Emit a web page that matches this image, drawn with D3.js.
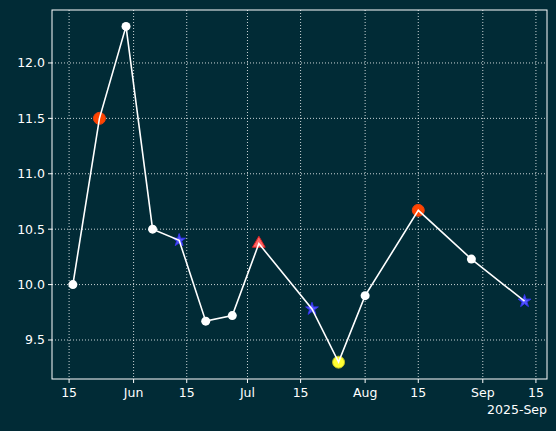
<!DOCTYPE html><html><head><script src="https://cdn.jsdelivr.net/npm/d3@7"></script>
<style>body{margin:0;background:#012b36}</style></head><body><svg id="c" width="556" height="431"></svg><script>
const dates=["2025-05-16","2025-05-23","2025-05-30","2025-06-06","2025-06-13","2025-06-20","2025-06-27","2025-07-04","2025-07-18","2025-07-25","2025-08-01","2025-08-15","2025-08-29","2025-09-12"];
const values=[10.0,11.5,12.33,10.5,10.4,9.67,9.72,10.37,9.78,9.3,9.9,10.67,10.23,9.85];
const kinds=["c","o","c","c","s","c","c","t","s","y","c","o","c","s"];
const yTicks=[9.5,10.0,10.5,11.0,11.5,12.0];
const xTicks=["2025-05-15","2025-06-01","2025-06-15","2025-07-01","2025-07-15","2025-08-01","2025-08-15","2025-09-01","2025-09-15"];
const xLabels=["15","Jun","15","Jul","15","Aug","15","Sep","15"];
const p=d3.timeParse("%Y-%m-%d");
const svg=d3.select("#c");
svg.append("rect").attr("width",556).attr("height",431).attr("fill","#012b36");
const L=52,R=547,T=10,B=379;
const x=d3.scaleTime().domain([new Date(2025,4,10,12),new Date(2025,8,17,22)]).range([L,R]);
const y=d3.scaleLinear().domain([9.148,12.478]).range([B,T]);
const g=svg.append("g");
xTicks.forEach((t,i)=>{const X=x(p(t));
g.append("line").attr("x1",X).attr("x2",X).attr("y1",T).attr("y2",B).attr("stroke","#fff").attr("stroke-width",0.8).attr("stroke-dasharray","1,2");
g.append("line").attr("x1",X).attr("x2",X).attr("y1",B).attr("y2",B+4).attr("stroke","#fff");
g.append("text").attr("x",X).attr("y",B+18).attr("fill","#fff").attr("text-anchor","middle").attr("font-family","DejaVu Sans").attr("font-size",12.5).text(xLabels[i]);});
yTicks.forEach(t=>{const Y=y(t);
g.append("line").attr("x1",L).attr("x2",R).attr("y1",Y).attr("y2",Y).attr("stroke","#fff").attr("stroke-width",0.8).attr("stroke-dasharray","1,2");
g.append("line").attr("x1",L-4).attr("x2",L).attr("y1",Y).attr("y2",Y).attr("stroke","#fff");
g.append("text").attr("x",L-7).attr("y",Y+4.5).attr("fill","#fff").attr("text-anchor","end").attr("font-family","DejaVu Sans").attr("font-size",12.5).text(t.toFixed(1));});
g.append("text").attr("x",R).attr("y",B+35).attr("fill","#fff").attr("text-anchor","end").attr("font-family","DejaVu Sans").attr("font-size",12.5).text("2025-Sep");
g.append("rect").attr("x",L).attr("y",T).attr("width",R-L).attr("height",B-T).attr("fill","none").attr("stroke","#fff").attr("stroke-width",1);
const pts=dates.map((d,i)=>[x(p(d)),y(values[i]),kinds[i]]);
const m=svg.append("g");
pts.forEach(([X,Y,k])=>{
 if(k==="o")m.append("circle").attr("cx",X).attr("cy",Y).attr("r",6).attr("fill","#ff4500").attr("stroke","#e8400f");
 else if(k==="y")m.append("circle").attr("cx",X).attr("cy",Y).attr("r",6).attr("fill","#ffff33").attr("stroke","#bbbb22");
 else if(k==="s")m.append("path").attr("transform",`translate(${X},${Y})`).attr("d",d3.symbol(d3.symbolStar,50)()).attr("fill","#5555ff").attr("stroke","#3333ee");
 else if(k==="t")m.append("path").attr("transform",`translate(${X},${Y})`).attr("d",d3.symbol(d3.symbolTriangle,70)()).attr("fill","#ff6666").attr("stroke","#dd2222");
});
svg.append("path").datum(pts).attr("d",d3.line().x(d=>d[0]).y(d=>d[1])).attr("fill","none").attr("stroke","#fff").attr("stroke-width",1.6);
pts.forEach(([X,Y,k])=>{ if(k==="c")svg.append("circle").attr("cx",X).attr("cy",Y).attr("r",4.5).attr("fill","#fff");});
</script></body></html>
